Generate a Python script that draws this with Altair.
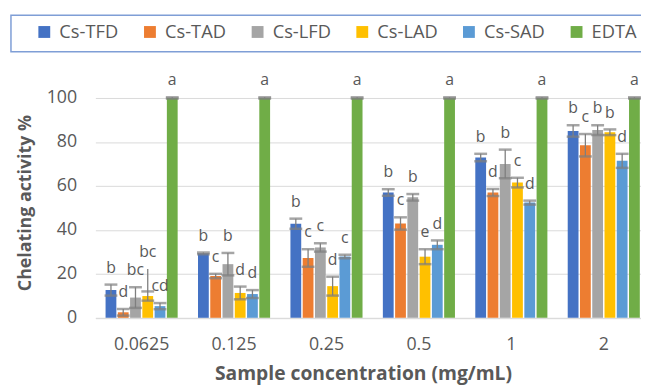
import altair as alt
import pandas as pd

concs = ["0.0625", "0.125", "0.25", "0.5", "1", "2"]
series = ["Cs-TFD", "Cs-TAD", "Cs-LFD", "Cs-LAD", "Cs-SAD", "EDTA"]
colors = ["#4472C4", "#ED7D31", "#A5A5A5", "#FFC000", "#5B9BD5", "#70AD47"]

tfd = [12.6, 29.3, 42.8, 57.0, 72.9, 85.0]
tad = [2.5, 19.0, 27.2, 42.9, 57.0, 78.5]
lfd = [9.2, 24.4, 32.0, 54.8, 70.0, 85.4]
lad = [9.9, 11.3, 14.4, 27.8, 61.5, 84.4]
sad = [5.3, 10.8, 27.9, 33.2, 52.4, 71.4]
edta = [100, 100, 100, 100, 100, 100]

tfd_err = [2.5, 0.4, 2.3, 1.5, 1.7, 2.6]
tad_err = [1.5, 1.0, 4.0, 2.8, 1.6, 5.1]
lfd_err = [4.7, 5.1, 1.9, 1.5, 6.5, 2.2]
lad_err = [2.1, 2.9, 4.3, 3.4, 2.2, 1.3]
sad_err = [1.4, 1.8, 0.8, 2.0, 0.9, 3.2]
edta_err = [0.3, 0.3, 0.3, 0.3, 0.3, 0.3]

# whisker that runs above its cap (only seen on Cs-LAD at 0.0625)
lad_whisker_top = [22.2, 0, 0, 0, 0, 0]

tfd_let = ["b", "b", "b", "b", "b", "b"]
tad_let = ["d", "c", "c", "c", "d", "c"]
lfd_let = ["bc", "b", "c", "b", "b", "b"]
lad_let = ["bc", "d", "d", "e", "c", "b"]
sad_let = ["cd", "d", "c", "d", "d", "d"]
edta_let = ["a", "a", "a", "a", "a", "a"]

vals = [tfd, tad, lfd, lad, sad, edta]
errs = [tfd_err, tad_err, lfd_err, lad_err, sad_err, edta_err]
lets = [tfd_let, tad_let, lfd_let, lad_let, sad_let, edta_let]
zeros = [0, 0, 0, 0, 0, 0]
wtops = [zeros, zeros, zeros, lad_whisker_top, zeros, zeros]

rows = []
for s, vv, ee, ll, ww in zip(series, vals, errs, lets, wtops):
    for c, v, e, l, w in zip(concs, vv, ee, ll, ww):
        top = max(v + e, w)
        rows.append(dict(conc=c, series=s, value=v, lo=v - e, hi=v + e, wtop=top, letter=l))
df = pd.DataFrame(rows)

FONT = "Open Sans"
GRAY = "#595959"
YT = "Chelating activity %"

x = alt.X(
    "conc:N",
    sort=concs,
    scale=alt.Scale(range=[0, 561.6], paddingInner=0.22, paddingOuter=0.11),
    axis=alt.Axis(
        title="Sample concentration (mg/mL)",
        labelAngle=0,
        labelFont=FONT,
        labelFontSize=18,
        labelColor=GRAY,
        labelPadding=18,
        ticks=False,
        domainColor="#D9D9D9",
        domainWidth=1,
        grid=False,
        titleFont=FONT,
        titleFontSize=19.5,
        titleFontWeight="bold",
        titleColor=GRAY,
        titleX=271,
        titleY=62.7,
        titleBaseline="alphabetic",
    ),
)
xo = alt.XOffset("series:N", sort=series, scale=alt.Scale(paddingInner=0.12, paddingOuter=0))

yaxis = alt.Axis(
    values=[0, 20, 40, 60, 80, 100],
    labelFont=FONT,
    labelFontSize=18,
    labelColor=GRAY,
    labelPadding=19,
    ticks=False,
    domain=False,
    gridColor="#D9D9D9",
    gridWidth=1,
    titleFont=FONT,
    titleFontSize=18,
    titleFontWeight="bold",
    titleColor=GRAY,
    titleAngle=270,
    titleX=-65.5,
    titleY=106,
    titleBaseline="alphabetic",
)

base = alt.Chart(df).encode(x=x, xOffset=xo)

bars = base.mark_bar().encode(
    y=alt.Y("value:Q", title=YT, scale=alt.Scale(domain=[0, 100], nice=False), axis=yaxis),
    color=alt.Color(
        "series:N",
        sort=series,
        scale=alt.Scale(domain=series, range=colors),
        legend=alt.Legend(
            orient="none",
            legendX=-61,
            legendY=-76.2,
            direction="horizontal",
            title=None,
            symbolType="square",
            symbolSize=144,
            symbolStrokeWidth=0,
            symbolOpacity=1,
            labelFont=FONT,
            labelFontSize=18.5,
            labelColor=GRAY,
            columnPadding=22,
            labelOffset=6,
            padding=0,
        ),
    ),
)

whisk = base.mark_rule(color="#7F7F7F", strokeWidth=1.3).encode(
    y=alt.Y("lo:Q", title=YT), y2="wtop:Q"
)
cap_lo = base.mark_tick(color="#7F7F7F", thickness=2.5, size=13).encode(y=alt.Y("lo:Q", title=YT))
cap_hi = base.mark_tick(color="#7F7F7F", thickness=2.5, size=13).encode(y=alt.Y("hi:Q", title=YT))
labels = base.mark_text(
    dy=-12, baseline="alphabetic", font=FONT, fontSize=16, color=GRAY
).encode(y=alt.Y("wtop:Q", title=YT), text="letter:N")

box = alt.Chart(pd.DataFrame({"k": [0]})).mark_rect(
    fillOpacity=0, stroke="#7F9ED6", strokeWidth=1.5
).encode(
    x=alt.value(-85.5), x2=alt.value(580), y=alt.value(-83.7), y2=alt.value(-46.7)
)

chart = (
    alt.layer(box, bars, whisk, cap_lo, cap_hi, labels)
    .properties(
        width=552.5,
        height=222.6,
        autosize=alt.AutoSizeParams(type="none"),
        padding={"left": 88.5, "top": 88.7, "right": 0, "bottom": 70},
        background="white",
    )
    .configure_view(stroke=None)
)

chart.save("out.html", embed_options={"renderer": "svg", "actions": False})
